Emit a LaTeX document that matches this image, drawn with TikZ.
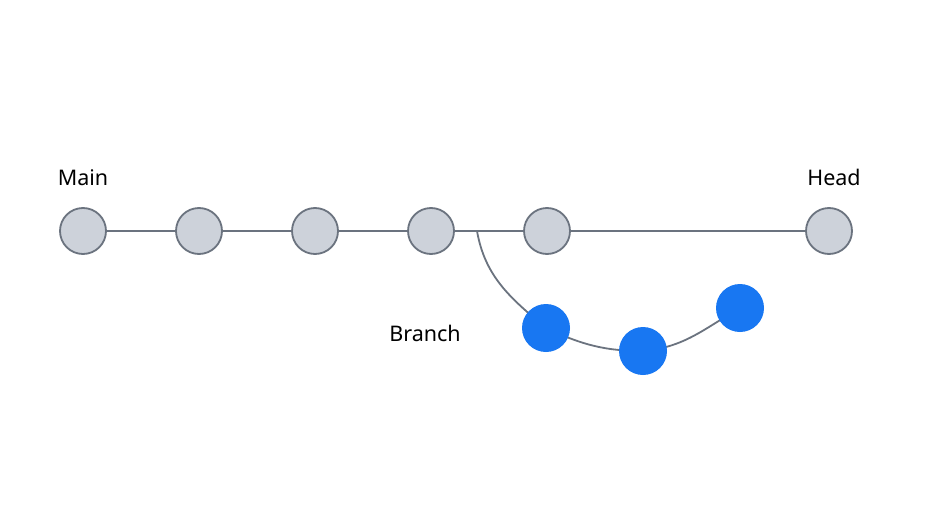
\documentclass[tikz,border=0pt]{standalone}
\usepackage{fontspec}
\setmainfont{Noto Sans}
\definecolor{linegray}{HTML}{6B737F}
\definecolor{nodefill}{HTML}{CDD2DA}
\definecolor{nodeblue}{HTML}{1877F2}
\begin{document}
\begin{tikzpicture}[x=1pt,y=-1pt,
  commit/.style={circle,draw=linegray,line width=1.8pt,fill=nodefill,minimum size=46pt,inner sep=0pt},
  bcommit/.style={circle,fill=nodeblue,minimum size=48pt,inner sep=0pt},
  conn/.style={draw=linegray,line width=1.8pt},
  lbl/.style={font=\fontsize{21.5}{25}\selectfont,text=black}]
\useasboundingbox (0,0) rectangle (952,532);
\fill[white] (0,0) rectangle (952,532);
\coordinate (br) at (477,231);
\draw[conn] (83,231) -- (829,231);
\draw[conn] (br) to[out=-80,in=140] (546,328) to[out=-25,in=180] (643,351) to[out=5,in=-150] (740,308);
\node[commit] (n1) at (83,231) {};
\node[commit] (n2) at (199,231) {};
\node[commit] (n3) at (315,231) {};
\node[commit] (n4) at (431,231) {};
\node[commit] (n5) at (547,231) {};
\node[commit] (n6) at (829,231) {};
\node[bcommit] (b1) at (546,328) {};
\node[bcommit] (b2) at (643,351) {};
\node[bcommit] (b3) at (740,308) {};
\node[lbl] (lmain) at (83,178) {Main};
\node[lbl] (lhead) at (834,177) {Head};
\node[lbl] (lbranch) at (425,333) {Branch};
\end{tikzpicture}
\end{document}
